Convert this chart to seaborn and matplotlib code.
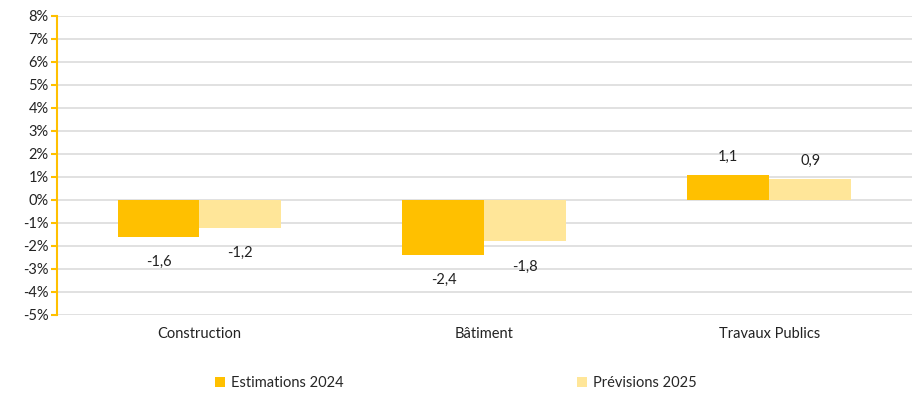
import matplotlib
matplotlib.use("Agg")
import matplotlib.pyplot as plt
import matplotlib.ticker as mticker
import seaborn as sns
import pandas as pd

categories = ["Construction", "Bâtiment", "Travaux Publics"]
series_names = ["Estimations 2024", "Prévisions 2025"]
estimations_2024 = [-1.6, -2.4, 1.1]
previsions_2025 = [-1.2, -1.8, 0.9]
y_ticks = list(range(-5, 9))

sns.set_theme(style="white")
plt.rcParams["font.family"] = ["Lato", "DejaVu Sans"]

df = pd.DataFrame({
    "categorie": categories * 2,
    "serie": [series_names[0]] * 3 + [series_names[1]] * 3,
    "valeur": estimations_2024 + previsions_2025,
})

fig = plt.figure(figsize=(9.21, 3.93), dpi=100)
ax = fig.add_axes([0.0619, 0.1985, 0.9281, 0.7608])

palette = {series_names[0]: "#FFC000", series_names[1]: "#FFE699"}
sns.barplot(data=df, x="categorie", y="valeur", hue="serie", palette=palette,
            width=0.575, ax=ax, saturation=1, legend=True, zorder=3,
            linewidth=0, edgecolor="none")

ax.set_ylim(-5, 8)
ax.set_yticks(y_ticks)
ax.yaxis.set_major_formatter(mticker.FuncFormatter(lambda v, p: f"{int(round(v))}%"))
ax.grid(axis="y", color="#d9d9d9", linewidth=1.1, zorder=0)
ax.set_axisbelow(True)
ax.set_xlim(-0.5, 2.5)

for s in ["top", "right", "bottom"]:
    ax.spines[s].set_visible(False)
ax.spines["left"].set_color("#FFC000")
ax.spines["left"].set_linewidth(1.5)
ax.tick_params(axis="y", which="major", direction="out", length=4, width=1.5,
               color="#FFC000", labelsize=10.5, labelcolor="#222222", pad=2, left=True)
ax.tick_params(axis="x", length=0, labelsize=10.5, labelcolor="#222222", pad=9)
ax.set_xlabel("")
ax.set_ylabel("")


def fr(v):
    return f"{v:.1f}".replace(".", ",")


# value labels in French decimal format, outside the bar end
for container in ax.containers:
    heights = [b.get_height() for b in container]
    neg = [fr(h) if h < 0 else "" for h in heights]
    pos = [fr(h) if h >= 0 else "" for h in heights]
    ax.bar_label(container, labels=neg, padding=13, fontsize=10.5, color="#222222")
    ax.bar_label(container, labels=pos, padding=8, fontsize=10.5, color="#222222")

handles, labels = ax.get_legend_handles_labels()
ax.get_legend().remove()
fig.legend(handles, labels, loc="center", bbox_to_anchor=(0.495, 0.0254),
           bbox_transform=fig.transFigure,
           ncol=2, frameon=False, fontsize=10.5, handlelength=0.7, handleheight=0.7,
           handletextpad=0.4, columnspacing=16.0)

fig.savefig("out.png", dpi=100)
